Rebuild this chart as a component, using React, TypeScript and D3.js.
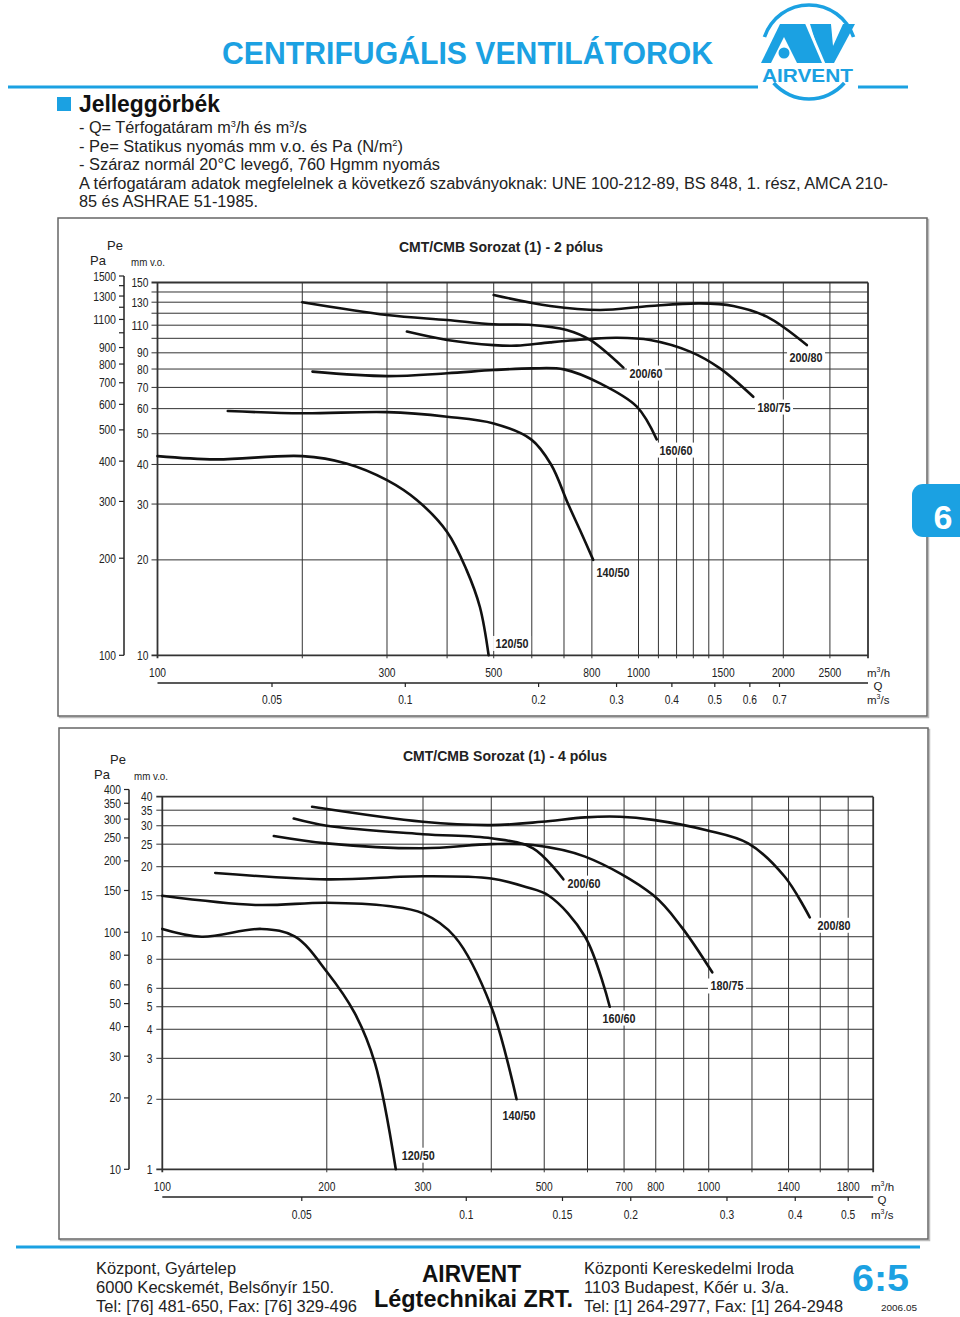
import React from 'react';
import * as d3 from 'd3';

type Pt = [number, number];

const BLUE = '#1ba1e2';
const NARROW = "'Liberation Sans Narrow', 'Liberation Sans', Arial, sans-serif";

// fan types, same order as the curve lists below
const fanNames = ['120/50', '140/50', '160/60', '180/75', '200/60', '200/80'];

// ---- CMT/CMB 2 pólus : Q m3/h, Pe mm v.o. ----
const q1Grid = [100, 200, 300, 400, 500, 600, 700, 800, 1000, 1100, 1200, 1300, 1400, 1500, 2000, 2500, 3000];
const q1Ticks = [100, 300, 500, 800, 1000, 1500, 2000, 2500];
const mm1Grid = [10, 20, 30, 40, 50, 60, 70, 80, 90, 100, 110, 120, 130, 140, 150];
const mm1Ticks = [10, 20, 30, 40, 50, 60, 70, 80, 90, 110, 130, 150];
const pa1Ticks = [100, 200, 300, 400, 500, 600, 700, 800, 900, 1100, 1300, 1500];
const pa1Minor = [1000, 1200, 1400];
const ms1Ticks = [0.05, 0.1, 0.2, 0.3, 0.4, 0.5, 0.6, 0.7];

const p2_120_50: Pt[] = [[100, 42.5], [132, 41.5], [200, 42.5], [247, 40.3], [300, 35.7], [346, 30.9], [400, 24.5], [439, 18.6], [468, 14.2], [488, 10]];
const p2_140_50: Pt[] = [[140, 59], [200, 58], [300, 58.5], [400, 56.6], [500, 53.9], [598, 48], [658, 40], [714, 30], [756, 24.8], [805, 20]];
const p2_160_60: Pt[] = [[210, 78.5], [300, 76], [400, 77.6], [500, 79.4], [600, 80.4], [700, 79.8], [832, 72.1], [992, 60.9], [1091, 48]];
const p2_180_75: Pt[] = [[330, 105], [400, 98.8], [500, 95.2], [558, 94.8], [655, 97.1], [793, 99.5], [901, 100.4], [1057, 98.8], [1280, 90.8], [1477, 80.4], [1732, 65.4]];
const p2_200_60: Pt[] = [[200, 130], [300, 118.5], [400, 114.2], [500, 110.7], [600, 110.2], [709, 106.2], [793, 98.8], [930, 80.8]];
const p2_200_80: Pt[] = [[500, 137], [655, 126.5], [832, 122.8], [1057, 126.5], [1342, 128.9], [1574, 126.5], [1848, 117], [2238, 95.2]];
const p2Labels: Pt[] = [[546, 10.9], [885, 18.2], [1197, 44.4], [1913, 60.7], [1036, 77.7], [2230, 87.3]];

// ---- CMT/CMB 4 pólus ----
const q2Grid = [100, 200, 300, 400, 500, 600, 700, 800, 900, 1000, 1200, 1400, 1600, 1800, 2000];
const q2Ticks = [100, 200, 300, 500, 700, 800, 1000, 1400, 1800];
const mm2Grid = [1, 2, 3, 4, 5, 6, 8, 10, 15, 20, 25, 30, 35, 40];
const mm2Ticks = [1, 2, 3, 4, 5, 6, 8, 10, 15, 20, 25, 30, 35, 40];
const pa2Ticks = [10, 20, 30, 40, 50, 60, 80, 100, 150, 200, 250, 300, 350, 400];
const ms2Ticks = [0.05, 0.1, 0.15, 0.2, 0.3, 0.4, 0.5];

const p4_120_50: Pt[] = [[100, 10.8], [118, 10], [152, 10.8], [175, 10], [200, 7.07], [225, 4.69], [245, 2.86], [267.5, 1]];
const p4_140_50: Pt[] = [[100, 15], [148, 13.7], [200, 14], [259, 13.55], [300, 12.6], [343, 10], [400, 5], [445, 2]];
const p4_160_60: Pt[] = [[125, 18.8], [200, 17.65], [300, 18.2], [400, 17.8], [461, 16.4], [510, 15], [594, 10], [659, 5]];
const p4_180_75: Pt[] = [[160, 27.1], [200, 25.2], [300, 24], [400, 25], [477, 24.8], [594, 22.1], [791, 15.1], [892, 11], [1015, 7.03]];
const p4_200_60: Pt[] = [[174, 32.2], [200, 30], [300, 27.6], [400, 26.5], [477, 24], [542, 17.65]];
const p4_200_80: Pt[] = [[188, 36.2], [300, 31.2], [400, 30.2], [495, 31.2], [594, 32.6], [688, 32.8], [791, 31.8], [991, 28.7], [1181, 25.2], [1378, 18.1], [1531, 12.1]];
const p4Labels: Pt[] = [[294, 1.15], [449.5, 1.71], [685, 4.47], [1080, 6.14], [591, 17.0], [1695, 11.2]];

// width a narrow grotesque would give, used to squeeze the fallback font
const narrowW = (s: string, fs: number) =>
  s.split('').reduce((w, c) => w + (/[0-9]/.test(c) ? 0.456 : c === '.' ? 0.228 : 0.5) * fs, 0);

const Chart = ({ cfg }: { cfg: any }) => {
  const { x, y, pa, ms, qGrid, qTicks, mmGrid, mmTicks, paTicks, paMinor, msTicks, curves, labels } = cfg;
  const [x0, x1] = x.range();
  const yb = y.range()[0];
  const yt = y.range()[1];
  const line = d3
    .line<Pt>()
    .x((d) => x(d[0]))
    .y((d) => y(d[1]))
    .curve(d3.curveCatmullRom.alpha(0.5));
  const t = { fontFamily: NARROW, fontSize: 12.5, fill: '#222', lengthAdjust: 'spacingAndGlyphs' };
  const [fx, fy, fw, fh] = cfg.frame;
  return (
    <g>
      <rect x={fx + 1.5} y={fy + 1.5} width={fw} height={fh} fill="none" stroke="#bbb" strokeWidth={1.5} />
      <rect x={fx} y={fy} width={fw} height={fh} fill="#fff" stroke="#666" strokeWidth={1.5} />
      <text x={cfg.title[0]} y={cfg.title[1]} textAnchor="middle" fontFamily={NARROW} fontWeight="bold" fontSize={15} fill="#222" textLength={204} lengthAdjust="spacingAndGlyphs">
        {cfg.titleText}
      </text>
      <text x={cfg.pe[0]} y={cfg.pe[1]} fontFamily={NARROW} fill="#222" fontSize={13} textAnchor="middle">Pe</text>
      <text x={cfg.paT[0]} y={cfg.paT[1]} fontFamily={NARROW} fill="#222" fontSize={13} textAnchor="middle">Pa</text>
      <text x={cfg.mmT[0]} y={cfg.mmT[1]} fontFamily={NARROW} fill="#222" fontSize={11} textAnchor="middle" textLength={34} lengthAdjust="spacingAndGlyphs">mm v.o.</text>

      {/* grid */}
      {mmGrid.map((v: number) => (
        <line key={'h' + v} x1={x0 - 6} x2={x1} y1={y(v)} y2={y(v)} stroke="#333" strokeWidth={v === mmGrid[0] || v === mmGrid[mmGrid.length - 1] ? 1.8 : 1} />
      ))}
      {qGrid.map((v: number) => (
        <line key={'v' + v} x1={x(v)} x2={x(v)} y1={yt} y2={yb + 3} stroke="#333" strokeWidth={v === qGrid[0] || v === qGrid[qGrid.length - 1] ? 1.8 : 1} />
      ))}

      {/* left axes */}
      {mmTicks.map((v: number) => (
        <text key={'mt' + v} x={cfg.mmLabelX} y={y(v) + 4.5} textAnchor="end" {...t} textLength={narrowW(String(v), 12.5)}>{v}</text>
      ))}
      <line x1={cfg.paX} x2={cfg.paX} y1={pa(paTicks[0])} y2={pa(paTicks[paTicks.length - 1])} stroke="#222" strokeWidth={1.5} />
      {paTicks.concat(paMinor).map((v: number) => (
        <line key={'pt' + v} x1={cfg.paX - 5} x2={cfg.paX} y1={pa(v)} y2={pa(v)} stroke="#222" strokeWidth={1.2} />
      ))}
      {paTicks.map((v: number) => (
        <text key={'pl' + v} x={cfg.paX - 8} y={pa(v) + 4.5} textAnchor="end" {...t} textLength={narrowW(String(v), 12.5)}>{v}</text>
      ))}

      {/* bottom axes */}
      {qTicks.map((v: number) => (
        <text key={'qt' + v} x={x(v)} y={cfg.qLabelY} textAnchor="middle" {...t} textLength={narrowW(String(v), 12.5)}>{v}</text>
      ))}
      <text x={cfg.unitX} y={cfg.qLabelY} fontFamily={NARROW} fill="#222" fontSize={11.5}>
        m<tspan dy={-5} fontSize={7}>3</tspan><tspan dy={5}>/h</tspan>
      </text>
      <text x={cfg.unitX + 11} y={cfg.qLabelY + 13.5} fontFamily={NARROW} fill="#222" fontSize={11.5} textAnchor="middle">Q</text>
      <line x1={x0} x2={x1} y1={cfg.msLineY} y2={cfg.msLineY} stroke="#222" strokeWidth={1.6} />
      {msTicks.map((v: number) => (
        <g key={'ms' + v}>
          <line x1={ms(v)} x2={ms(v)} y1={cfg.msLineY} y2={cfg.msLineY + 4} stroke="#222" strokeWidth={1.2} />
          <text x={ms(v)} y={cfg.msLabelY} textAnchor="middle" {...t} textLength={narrowW(String(v), 12.5)}>{v}</text>
        </g>
      ))}
      <text x={cfg.unitX} y={cfg.msLabelY} fontFamily={NARROW} fill="#222" fontSize={11.5}>
        m<tspan dy={-5} fontSize={7}>3</tspan><tspan dy={5}>/s</tspan>
      </text>

      {/* fan curves */}
      {curves.map((c: Pt[], i: number) => (
        <path key={'c' + i} d={line(c) || ''} fill="none" stroke="#111" strokeWidth={2.6} strokeLinecap="round" />
      ))}
      {labels.map((p: Pt, i: number) => (
        <g key={'l' + i}>
          <rect x={x(p[0]) - 19} y={y(p[1]) - 7.5} width={38} height={15} fill="#fff" />
          <text x={x(p[0])} y={y(p[1]) + 4.5} textAnchor="middle" fontFamily={NARROW} fontWeight="bold" fontSize={12.5} fill="#222" textLength={33} lengthAdjust="spacingAndGlyphs">
            {fanNames[i]}
          </text>
        </g>
      ))}
    </g>
  );
};

const Logo = () => {
  const cx = 809;
  const cy = 52;
  const r = 47;
  const arc = d3.arc();
  // d3.arc angles: 0 at 12 o'clock, clockwise
  const aTop = Math.acos(15 / r);
  const aBot = Math.acos(-31 / r);
  const top = arc({ innerRadius: r - 1.8, outerRadius: r + 1.8, startAngle: -aTop, endAngle: aTop }) || '';
  const bottom = arc({ innerRadius: r - 1.8, outerRadius: r + 1.8, startAngle: aBot, endAngle: 2 * Math.PI - aBot }) || '';
  return (
    <g>
      <path d={top} transform={`translate(${cx},${cy})`} fill={BLUE} />
      <path d={bottom} transform={`translate(${cx},${cy})`} fill={BLUE} />
      <polygon points="761,63 780,24 806,24 825,63" fill={BLUE} />
      <polygon points="771,63 784,37 797,63" fill="#fff" />
      <circle cx={784} cy={53} r={5.5} fill={BLUE} />
      <polygon points="810,24 855,24 834,63 822,63" fill={BLUE} />
      <polygon points="831,24 843,24 833,46" fill="#fff" />
      <line x1={806} y1={22} x2={824} y2={64} stroke="#fff" strokeWidth={3} />
      <text x={762} y={82} fontFamily="'Liberation Sans', Arial, sans-serif" fontWeight="bold" fontSize={18} fill={BLUE} textLength={91} lengthAdjust="spacingAndGlyphs">
        AIRVENT
      </text>
    </g>
  );
};

const App = () => {
  const chart1 = {
    titleText: 'CMT/CMB Sorozat (1) - 2 pólus',
    frame: [58, 218, 869, 498],
    x: d3.scaleLog().domain([100, 3000]).range([157.5, 868]),
    y: d3.scaleLog().domain([10, 150]).range([655.3, 282.5]),
    pa: d3.scaleLog().domain([100, 1500]).range([655.3, 276]),
    ms: d3.scaleLog().domain([0.05, 0.7]).range([272, 779.5]),
    qGrid: q1Grid,
    qTicks: q1Ticks,
    mmGrid: mm1Grid,
    mmTicks: mm1Ticks,
    paTicks: pa1Ticks,
    paMinor: pa1Minor,
    msTicks: ms1Ticks,
    curves: [p2_120_50, p2_140_50, p2_160_60, p2_180_75, p2_200_60, p2_200_80],
    labels: p2Labels,
    paX: 124,
    mmLabelX: 148.5,
    title: [501, 252],
    pe: [115, 250],
    paT: [98, 265],
    mmT: [148, 266],
    qLabelY: 676.5,
    msLineY: 683,
    msLabelY: 704,
    unitX: 867,
  };
  const chart2 = {
    titleText: 'CMT/CMB Sorozat (1) - 4 pólus',
    frame: [59, 728, 869, 511],
    x: d3.scaleLog().domain([100, 2000]).range([162.3, 873.2]),
    y: d3.scaleLog().domain([1, 40]).range([1169.3, 796.7]),
    pa: d3.scaleLog().domain([10, 400]).range([1169.3, 789.5]),
    ms: d3.scaleLog().domain([100 / 3600, 2000 / 3600]).range([162.3, 873.2]),
    qGrid: q2Grid,
    qTicks: q2Ticks,
    mmGrid: mm2Grid,
    mmTicks: mm2Ticks,
    paTicks: pa2Ticks,
    paMinor: [],
    msTicks: ms2Ticks,
    curves: [p4_120_50, p4_140_50, p4_160_60, p4_180_75, p4_200_60, p4_200_80],
    labels: p4Labels,
    paX: 129,
    mmLabelX: 152.5,
    title: [505, 761],
    pe: [118, 764],
    paT: [102, 779],
    mmT: [151, 780],
    qLabelY: 1190.5,
    msLineY: 1197,
    msLabelY: 1218.5,
    unitX: 871,
  };
  const body = { fontFamily: NARROW, fontSize: 16, fill: '#222' };
  return (
    <div style={{ position: 'absolute', left: 0, top: 0 }}>
      <svg width={960} height={1317} style={{ display: 'block', background: '#fff' }}>
        {/* header */}
        <text x={222} y={64} fontFamily={NARROW} fontWeight="bold" fontSize={31} fill={BLUE} textLength={491} lengthAdjust="spacingAndGlyphs">
          CENTRIFUGÁLIS VENTILÁTOROK
        </text>
        <line x1={8} x2={758} y1={87} y2={87} stroke={BLUE} strokeWidth={3} />
        <line x1={858} x2={908} y1={87} y2={87} stroke={BLUE} strokeWidth={3} />
        <Logo />
        <rect x={57} y={97} width={14} height={14} fill={BLUE} />
        <text x={79} y={112} fontFamily={NARROW} fontWeight="bold" fontSize={23} fill="#111" textLength={141} lengthAdjust="spacingAndGlyphs">
          Jelleggörbék
        </text>
        <text x={79} y={133} {...body} textLength={228} lengthAdjust="spacingAndGlyphs">
          - Q= Térfogatáram m<tspan dy={-6} fontSize={9}>3</tspan><tspan dy={6}>/h és m</tspan><tspan dy={-6} fontSize={9}>3</tspan><tspan dy={6}>/s</tspan>
        </text>
        <text x={79} y={152} {...body} textLength={324} lengthAdjust="spacingAndGlyphs">
          - Pe= Statikus nyomás mm v.o.  és Pa (N/m<tspan dy={-6} fontSize={9}>2</tspan><tspan dy={6}>)</tspan>
        </text>
        <text x={79} y={170} {...body} textLength={361} lengthAdjust="spacingAndGlyphs">
          - Száraz normál 20°C levegő, 760 Hgmm nyomás
        </text>
        <text x={79} y={189} {...body} textLength={809} lengthAdjust="spacingAndGlyphs">
          A térfogatáram adatok megfelelnek a következő szabványoknak: UNE 100-212-89, BS 848, 1. rész, AMCA 210-
        </text>
        <text x={79} y={207} {...body} textLength={179} lengthAdjust="spacingAndGlyphs">
          85 és ASHRAE 51-1985.
        </text>

        <Chart cfg={chart1} />
        <Chart cfg={chart2} />

        {/* side tab */}
        <rect x={912} y={484} width={70} height={53} rx={11} fill={BLUE} />
        <text x={943} y={529} textAnchor="middle" fontFamily="'Liberation Sans', Arial, sans-serif" fontWeight="bold" fontSize={34} fill="#fff">
          6
        </text>

        {/* footer */}
        <line x1={16} x2={920} y1={1247} y2={1247} stroke={BLUE} strokeWidth={3} />
        <text x={96} y={1274} {...body} textLength={140} lengthAdjust="spacingAndGlyphs">Központ, Gyártelep</text>
        <text x={96} y={1293} {...body} textLength={238} lengthAdjust="spacingAndGlyphs">6000 Kecskemét, Belsőnyír 150.</text>
        <text x={96} y={1312} {...body} textLength={261} lengthAdjust="spacingAndGlyphs">Tel: [76] 481-650, Fax: [76] 329-496</text>
        <text x={422} y={1282} fontFamily={NARROW} fontWeight="bold" fontSize={23} fill="#111" textLength={99} lengthAdjust="spacingAndGlyphs">AIRVENT</text>
        <text x={374} y={1307} fontFamily={NARROW} fontWeight="bold" fontSize={23} fill="#111" textLength={199} lengthAdjust="spacingAndGlyphs">Légtechnikai ZRT.</text>
        <text x={584} y={1274} {...body} textLength={210} lengthAdjust="spacingAndGlyphs">Központi Kereskedelmi Iroda</text>
        <text x={584} y={1293} {...body} textLength={205} lengthAdjust="spacingAndGlyphs">1103 Budapest, Kőér u. 3/a.</text>
        <text x={584} y={1312} {...body} textLength={259} lengthAdjust="spacingAndGlyphs">Tel: [1] 264-2977, Fax: [1] 264-2948</text>
        <text x={852} y={1291} fontFamily={NARROW} fontWeight="bold" fontSize={36} fill={BLUE} textLength={57} lengthAdjust="spacingAndGlyphs">6:5</text>
        <text x={881} y={1311} fontFamily={NARROW} fontSize={9.5} fill="#222" textLength={36} lengthAdjust="spacingAndGlyphs">2006.05</text>
      </svg>
    </div>
  );
};

export default App;
